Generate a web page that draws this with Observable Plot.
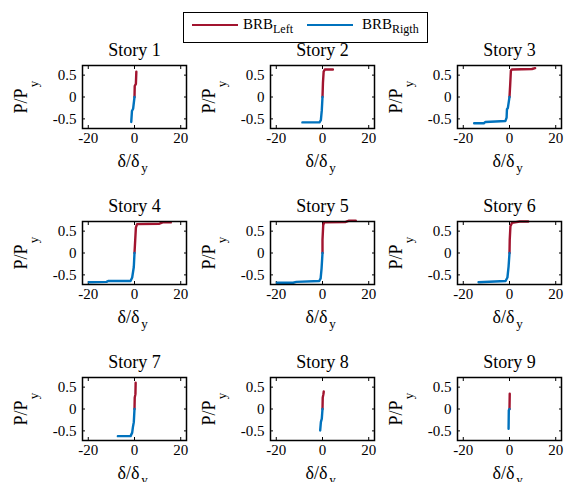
<!DOCTYPE html>
<html>
<head>
<meta charset="utf-8">
<script src="https://cdn.jsdelivr.net/npm/d3@7"></script>
<script src="https://cdn.jsdelivr.net/npm/@observablehq/plot@0.6"></script>
<style>
  body { margin: 0; background: #fff; color: #000; font-family: "Liberation Serif", serif; }
  #wrap { position: relative; width: 566px; height: 482px; overflow: hidden; }
  .panel { position: absolute; }
  .panel svg { overflow: visible; font-family: "Liberation Serif", serif !important; }
  .panel svg text { font-family: "Liberation Serif", serif !important; }
  #legend { position: absolute; left: 183px; top: 12px; width: 245px; height: 31px; border: 1.5px solid #000; box-sizing: border-box; background: #fff; z-index: 2; }
  #legend .sw { position: absolute; height: 0; border-top: 2px solid; }
  #legend .lab { position: absolute; font-size: 15px; line-height: 15px; white-space: nowrap; }
  #legend .lab span { font-size: 12px; vertical-align: -4px; }
</style>
</head>
<body>
<div id="wrap">
  <div id="legend">
    <div class="sw" style="left:8px;width:46px;top:11px;border-color:#A2142F"></div>
    <div class="lab" style="left:59px;top:4px">BRB<span>Left</span></div>
    <div class="sw" style="left:123px;width:46px;top:11px;border-color:#0072BD"></div>
    <div class="lab" style="left:178px;top:4px">BRB<span>Rigth</span></div>
  </div>
</div>
<script>
// Series: [drift ratio δ/δy, force ratio P/Py]
const s1Left  = [[0,0],[0.1,0.25],[0.6,0.3],[0.8,0.58]];
const s1Right = [[0,0],[-0.6,-0.27],[-1.1,-0.32],[-1.4,-0.57]];
const s2Left  = [[0,0],[0.2,0.33],[0.5,0.58],[1,0.63],[4.5,0.63]];
const s2Right = [[0,0],[-0.3,-0.3],[-0.7,-0.53],[-1.3,-0.58],[-8.7,-0.58]];
const s3Left  = [[0,0],[0.3,0.28],[0.6,0.6],[1,0.63],[9.7,0.64],[11.1,0.66]];
const s3Right = [[0,0],[-0.7,-0.25],[-1.1,-0.28],[-1.25,-0.47],[-1.8,-0.55],[-10.4,-0.57],[-11.1,-0.6],[-15.3,-0.6]];
const s4Left  = [[0,0],[0.3,0.29],[0.6,0.58],[1.1,0.66],[10.8,0.67],[12.2,0.7],[15.7,0.7]];
const s4Right = [[0,0],[-0.3,-0.32],[-1,-0.56],[-1.7,-0.64],[-11.4,-0.64],[-12.1,-0.66],[-19.7,-0.67]];
const s5Left  = [[0,0],[0,0.3],[0.3,0.63],[0.7,0.7],[10.1,0.71],[11.5,0.74],[14.4,0.74]];
const s5Right = [[0,0],[-0.4,-0.35],[-0.8,-0.58],[-1.4,-0.64],[-11.3,-0.66],[-12.7,-0.68],[-19.7,-0.68]];
const s6Left  = [[0,0],[0.1,0.3],[0.4,0.61],[1.1,0.69],[4.4,0.72],[8.1,0.72]];
const s6Right = [[0,0],[-0.4,-0.31],[-0.9,-0.56],[-1.7,-0.64],[-13.4,-0.67]];
const s7Left  = [[0,0],[0.1,0.26],[0.4,0.34],[0.5,0.6]];
const s7Right = [[0,0],[-0.3,-0.3],[-0.7,-0.42],[-1,-0.54],[-1.7,-0.62],[-7.2,-0.62]];
const s8Left  = [[0,0],[0.1,0.26],[0.4,0.34],[0.55,0.4]];
const s8Right = [[0,0],[-0.3,-0.22],[-0.7,-0.3],[-1,-0.49]];
const s9Left  = [[0,0],[0.1,0.35]];
const s9Right = [[0,0],[-0.3,-0.03],[-0.4,-0.45]];

const titles = ["Story 1","Story 2","Story 3","Story 4","Story 5","Story 6","Story 7","Story 8","Story 9"];
const leftSeries  = [s1Left, s2Left, s3Left, s4Left, s5Left, s6Left, s7Left, s8Left, s9Left];
const rightSeries = [s1Right, s2Right, s3Right, s4Right, s5Right, s6Right, s7Right, s8Right, s9Right];
const xTicks = [-20, 0, 20];
const yTicks = [-0.5, 0, 0.5];
const yLabel = "P/P", yLabelSub = "y";
const xLabel = "δ/δ", xLabelSub = "y";

const RED = "#A2142F", BLUE = "#0072BD";
const FONT = "Liberation Serif";
const colLeft = [0, 188, 375];
const rowTop = [38, 193.5, 350];
const fmt = d => String(d);

const wrap = document.getElementById("wrap");
for (let i = 0; i < 9; i++) {
  const col = i % 3, row = Math.floor(i / 3);
  const svg = Plot.plot({
    width: 188, height: 136,
    marginLeft: 82, marginRight: 2, marginTop: 27, marginBottom: 46,
    style: { fontFamily: FONT, fontSize: "15px", background: "transparent", color: "#000", overflow: "visible" },
    x: { domain: [-22.5, 22.5] },
    y: { domain: [-0.72, 0.72] },
    marks: [
      Plot.axisX({ anchor: "bottom", ticks: xTicks, tickSize: 0, tickPadding: 4, tickFormat: fmt, label: null, fontFamily: FONT, fontSize: 15 }),
      Plot.axisX({ anchor: "bottom", ticks: xTicks, tickSize: -3, fill: "none", label: null }),
      Plot.axisX({ anchor: "top", ticks: xTicks, tickSize: -3, fill: "none", label: null }),
      Plot.axisY({ anchor: "left", ticks: yTicks, tickSize: 0, tickPadding: 6, tickFormat: fmt, label: null, fontFamily: FONT, fontSize: 15 }),
      Plot.axisY({ anchor: "left", ticks: yTicks, tickSize: -3, fill: "none", label: null }),
      Plot.axisY({ anchor: "right", ticks: yTicks, tickSize: -3, fill: "none", label: null }),
      Plot.line(leftSeries[i], { x: d => d[0], y: d => d[1], stroke: RED, strokeWidth: 2.4 }),
      Plot.line(rightSeries[i], { x: d => d[0], y: d => d[1], stroke: BLUE, strokeWidth: 2.4 }),
      Plot.frame({ stroke: "#000", strokeWidth: 1.5 }),
      Plot.text([titles[i]], { frameAnchor: "top", dy: -15, textAnchor: "middle", lineAnchor: "middle", fontSize: 18, fontFamily: FONT }),
      Plot.text([yLabel], { frameAnchor: "left", rotate: -90, dx: -61, dy: 4, textAnchor: "middle", lineAnchor: "middle", fontSize: 18, fontFamily: FONT }),
      Plot.text([yLabelSub], { frameAnchor: "left", rotate: -90, dx: -49, dy: -13, textAnchor: "middle", lineAnchor: "middle", fontSize: 13, fontFamily: FONT }),
      Plot.text([xLabel], { frameAnchor: "bottom", dx: -6, dy: 33, textAnchor: "middle", lineAnchor: "middle", fontSize: 18, fontFamily: FONT }),
      Plot.text([xLabelSub], { frameAnchor: "bottom", dx: 10, dy: 39, textAnchor: "middle", lineAnchor: "middle", fontSize: 13, fontFamily: FONT })
    ]
  });
  const div = document.createElement("div");
  div.className = "panel";
  div.style.left = colLeft[col] + "px";
  div.style.top = rowTop[row] + "px";
  div.appendChild(svg);
  wrap.appendChild(div);
}
</script>
</body>
</html>
